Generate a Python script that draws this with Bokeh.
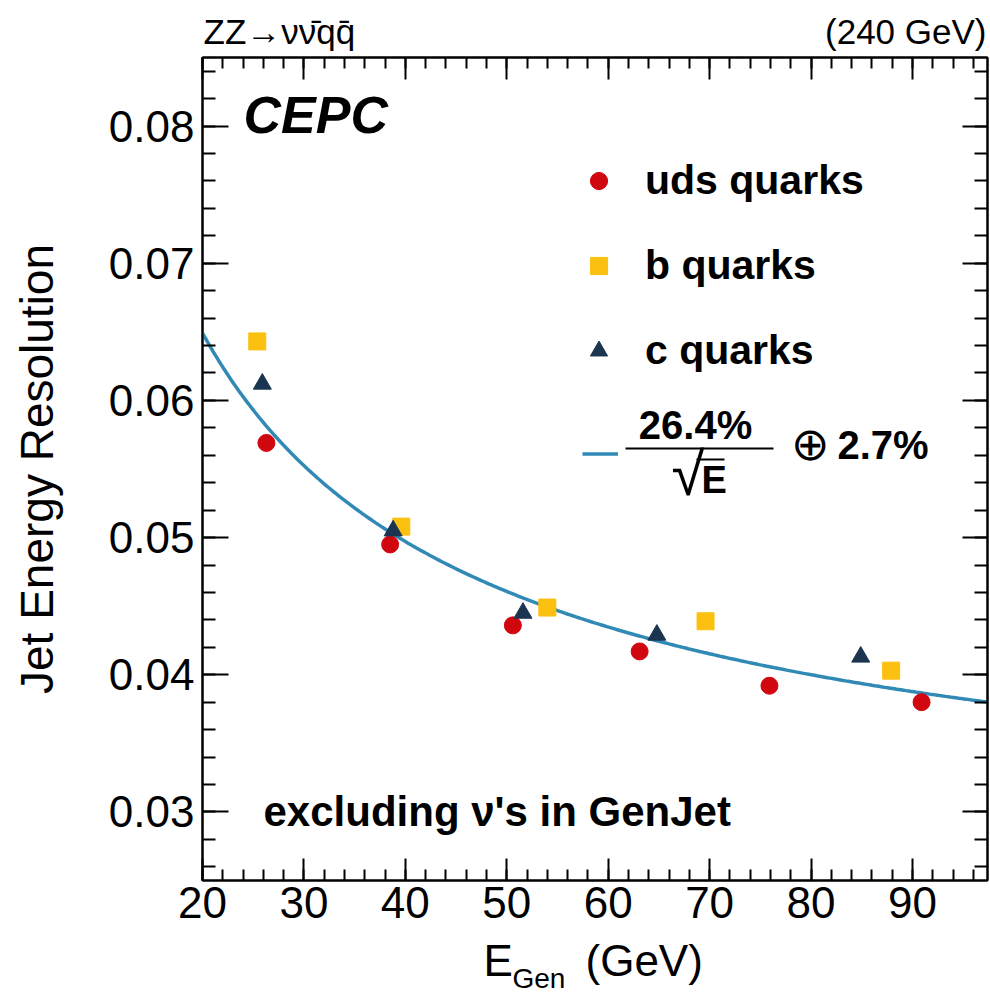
import numpy as np
from bokeh.plotting import figure
from bokeh.layouts import column
from bokeh.models import (Label, BoxAnnotation, Legend, LegendItem, LinearAxis,
                          SingleIntervalTicker, Range1d)
from bokeh.embed import file_html
from bokeh.resources import INLINE

# ---------------- data ----------------
E_uds = [26.3, 38.5, 50.6, 63.1, 75.9, 90.9]
R_uds = [0.0569, 0.0495, 0.0436, 0.0417, 0.0392, 0.0380]
E_b = [25.4, 39.6, 54.0, 69.6, 87.9]
R_b = [0.0643, 0.0508, 0.0449, 0.0439, 0.0403]
E_c = [25.9, 38.8, 51.6, 64.8, 84.9]
R_c = [0.0612, 0.0505, 0.0445, 0.0429, 0.0413]

# fit: 26.4%/sqrt(E) (+) 2.7%
FIT_STOCH = 0.264
FIT_CONST = 0.027
X_MIN, X_MAX = 20.0, 97.4
Y_MIN, Y_MAX = 0.025, 0.0850
E_fit = np.linspace(X_MIN, X_MAX, 300)
R_fit = np.sqrt((FIT_STOCH / np.sqrt(E_fit)) ** 2 + FIT_CONST ** 2)

series_labels = ["uds quarks", "b quarks", "c quarks"]
header_left = "ZZ\u2192\u03bd\u03bd\u0304q" + "q\u0304"
header_right = "(240 GeV)"
y_title = "Jet Energy Resolution"
x_title_main, x_title_sub, x_title_unit = "E", "Gen", "(GeV)"

FONT = "Liberation Sans"
RED = "#D0070F"
YEL = "#FBC010"
NAVY = "#1B3551"
BLUE = "#3189B5"

W = 990
FRAME_L, FRAME_R = 202, 987
HEAD_H = 51
MAIN_H = 884
FOOT_H = 59


def mid(baseline_from_bottom, size):
    # position of the "middle" text baseline for a given alphabetic baseline
    return baseline_from_bottom + 0.35 * size


def lab(text, x, y, size, fstyle="normal", align="left", units="screen", font=FONT):
    return Label(x=x, y=y, x_units=units, y_units=units, text=text,
                 text_font=font, text_font_size=f"{size}px", text_font_style=fstyle,
                 text_align=align, text_baseline="middle", text_color="black")


def blank_fig(h):
    # frames of a column are aligned with the main plot frame
    f = figure(width=W, height=h, x_range=Range1d(FRAME_L, FRAME_R), y_range=Range1d(0, h),
               output_backend="svg", toolbar_location=None,
               x_axis_location=None, y_axis_location=None, min_border=0,
               min_border_left=FRAME_L, min_border_right=W - FRAME_R,
               background_fill_color="white", border_fill_color="white")
    f.grid.visible = False
    f.outline_line_color = None
    return f


# ---------------- header ----------------
head = blank_fig(HEAD_H)
head.add_layout(lab(header_left, 203, mid(HEAD_H - 43, 35), 35, units="data"))
head.add_layout(lab(header_right, 986, mid(HEAD_H - 43, 35), 35, align="right", units="data"))

# ---------------- main plot ----------------
p = figure(width=W, height=MAIN_H,
           x_range=Range1d(X_MIN, X_MAX), y_range=Range1d(Y_MIN, Y_MAX),
           output_backend="svg", toolbar_location=None,
           min_border_left=FRAME_L, min_border_right=W - FRAME_R,
           min_border_top=6, min_border_bottom=55,
           background_fill_color="white", border_fill_color="white")
p.xgrid.visible = False
p.ygrid.visible = False
p.outline_line_color = "black"
p.outline_line_width = 2

xt = SingleIntervalTicker(interval=10, num_minor_ticks=5)
yt = SingleIntervalTicker(interval=0.01, num_minor_ticks=5)


def style(ax, ticker, maj, mino, labels=True):
    ax.ticker = ticker
    ax.axis_line_color = "black"
    ax.axis_line_width = 2
    ax.major_tick_line_color = "black"
    ax.major_tick_line_width = 2
    ax.minor_tick_line_color = "black"
    ax.minor_tick_line_width = 2
    ax.major_tick_in = maj
    ax.major_tick_out = 0
    ax.minor_tick_in = mino
    ax.minor_tick_out = 0
    if labels:
        ax.major_label_text_font = FONT
        ax.major_label_text_font_size = "44px"
        ax.major_label_text_color = "black"
    else:
        ax.major_label_text_font_size = "0px"
        ax.major_label_text_color = None
        ax.major_label_standoff = 0


style(p.xaxis[0], xt, 22, 11)
p.xaxis[0].major_label_standoff = 6
style(p.yaxis[0], yt, 26, 13)
p.yaxis[0].major_label_standoff = 8
p.yaxis[0].axis_label = y_title
p.yaxis[0].axis_label_text_font = FONT
p.yaxis[0].axis_label_text_font_size = "46px"
p.yaxis[0].axis_label_text_font_style = "normal"
p.yaxis[0].axis_label_text_color = "black"
p.yaxis[0].axis_label_standoff = 43

top_ax = LinearAxis()
style(top_ax, xt, 22, 11, labels=False)
p.add_layout(top_ax, "above")
right_ax = LinearAxis()
style(right_ax, yt, 25, 13, labels=False)
p.add_layout(right_ax, "right")

r_fit = p.line(E_fit, R_fit, line_color=BLUE, line_width=3.5)
r_uds = p.scatter(E_uds, R_uds, marker="circle", size=17, fill_color=RED, line_color=RED)
r_b = p.scatter(E_b, R_b, marker="square", size=17, fill_color=YEL, line_color=YEL)
r_c = p.scatter(E_c, R_c, marker="triangle", size=18, fill_color=NAVY, line_color=NAVY)

leg1 = Legend(items=[LegendItem(label=series_labels[0], renderers=[r_uds]),
                     LegendItem(label=series_labels[1], renderers=[r_b]),
                     LegendItem(label=series_labels[2], renderers=[r_c])],
              location=(375, 501), orientation="vertical",
              glyph_width=43, glyph_height=43, label_height=57, spacing=28,
              padding=0, margin=0, label_standoff=25,
              label_text_font=FONT, label_text_font_style="bold",
              label_text_font_size="41px", label_text_color="black",
              border_line_color=None, background_fill_alpha=0)
leg2 = Legend(items=[LegendItem(label=" ", renderers=[r_fit])],
              location=(380, 405), glyph_width=36, glyph_height=43, label_height=43,
              padding=0, margin=0, label_standoff=0, label_text_font_size="10px",
              border_line_color=None, background_fill_alpha=0)
p.add_layout(leg1)
p.add_layout(leg2)


def bar(l, r, b, t):
    return BoxAnnotation(left=l, right=r, bottom=b, top=t,
                         left_units="screen", right_units="screen",
                         bottom_units="screen", top_units="screen",
                         fill_color="black", fill_alpha=1, line_color=None)


# fraction 26.4%/sqrt(E) (+) 2.7%   (screen px from frame bottom-left)
p.add_layout(lab("26.4%", 493, mid(442, 40), 40, "bold", align="center"))
p.add_layout(bar(423, 571, 431, 433))
p.add_layout(lab("\u221a", 469, mid(385, 60), 60))
p.add_layout(bar(494, 522, 420, 422))
p.add_layout(lab("E", 499, mid(387, 38), 38, "bold"))
p.add_layout(lab("\u2295", 608, 437, 46, align="center"))
p.add_layout(lab("2.7%", 635, mid(422, 40), 40, "bold"))

p.add_layout(lab("CEPC", 41, mid(747, 52), 52, "bold italic"))
p.add_layout(lab("excluding \u03bd's in GenJet", 61, mid(54, 42), 42, "bold"))

# ---------------- footer: x-axis title ----------------
foot = blank_fig(FOOT_H)
foot.add_layout(lab(x_title_main, 483, mid(19, 44), 44, units="data"))
foot.add_layout(lab(x_title_sub, 512, mid(6, 28), 28, units="data"))
foot.add_layout(lab(x_title_unit, 585, mid(19, 44), 44, units="data"))

layout = column(head, p, foot, spacing=0)
open("out.html", "w").write(file_html(layout, INLINE))
